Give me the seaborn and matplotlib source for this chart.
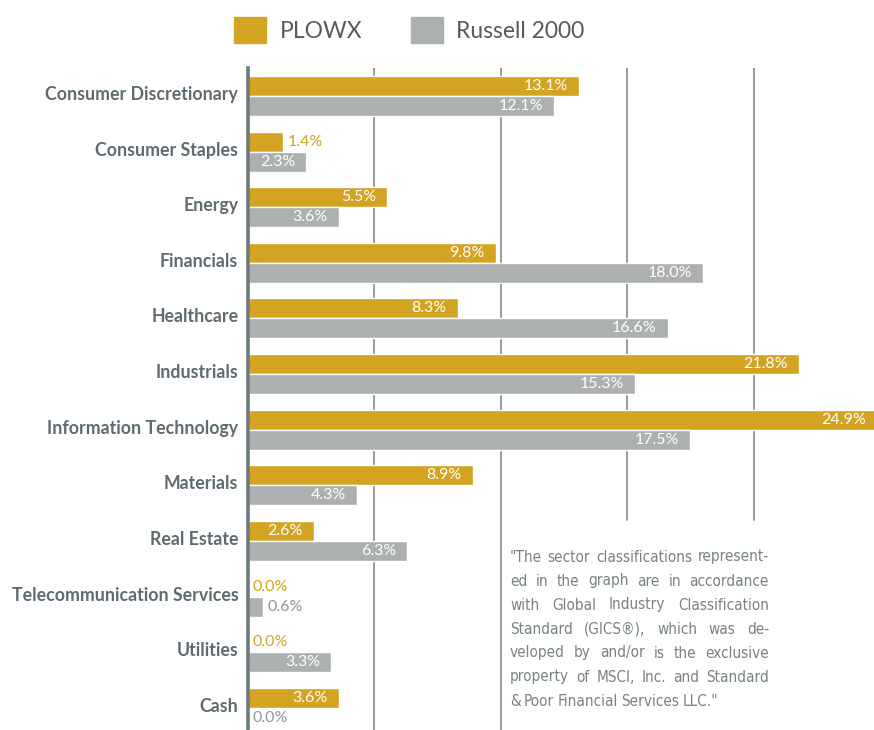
import matplotlib
matplotlib.use("Agg")
import pandas as pd
import seaborn as sns
import matplotlib.pyplot as plt
from matplotlib.patches import Patch
from matplotlib import font_manager as fm
from matplotlib.transforms import ScaledTranslation

# ---------------- data ----------------
sectors = [
    "Consumer Discretionary", "Consumer Staples", "Energy", "Financials",
    "Healthcare", "Industrials", "Information Technology", "Materials",
    "Real Estate", "Telecommunication Services", "Utilities", "Cash",
]
plowx = [13.1, 1.4, 5.5, 9.8, 8.3, 21.8, 24.9, 8.9, 2.6, 0.0, 0.0, 3.6]
russell = [12.1, 2.3, 3.6, 18.0, 16.6, 15.3, 17.5, 4.3, 6.3, 0.6, 3.3, 0.0]
series = ["PLOWX", "Russell 2000"]
grid_ticks = [5, 10, 15, 20]
note_lines = [
    '"The sector classifications represent-',
    "ed in the graph are in accordance",
    "with Global Industry Classification",
    "Standard (GICS®), which was de-",
    "veloped by and/or is the exclusive",
    "property of MSCI, Inc. and Standard",
    '& Poor Financial Services LLC."',
]

GOLD = "#D3A421"
GREY = "#ADB0B0"
LABEL = "#5F6B70"
GRID = "#8A9397"
NOTE = "#778286"

df = pd.DataFrame({
    "sector": sectors * 2,
    "fund": [series[0]] * len(sectors) + [series[1]] * len(sectors),
    "weight": plowx + russell,
})

sns.set_style("white")
plt.rcParams["font.family"] = ["Lato", "DejaVu Sans"]

# look for a narrow / condensed face for the note block
note_font = None
rank = {"condensed": 0, "semi-condensed": 1, "extra-condensed": 2}
best = 99
for f in fm.fontManager.ttflist:
    if f.style != "normal" or f.weight not in (400, "normal", "regular"):
        continue
    key = rank.get(f.stretch, 3 if ("Narrow" in f.name or "Condensed" in f.name) else None)
    if key is not None and key < best:
        best, note_font = key, f.fname

W, H = 874, 730
fig = plt.figure(figsize=(W / 100, H / 100), dpi=100)
ax = fig.add_axes([248 / W, 0, 1 - 248 / W, (H - 68) / H])

sns.barplot(data=df, y="sector", x="weight", hue="fund", orient="h",
            palette=[GOLD, GREY], width=0.72, saturation=1, legend=False,
            ax=ax, zorder=3)

ax.set_xlim(0, (W - 248) / 25.28)
ax.set_ylim(11.40, -0.504)
ax.set_xlabel("")
ax.set_ylabel("")
ax.set_xticks([])
for s in ["top", "right", "bottom"]:
    ax.spines[s].set_visible(False)
ax.spines["left"].set_color("#6E797D")
ax.spines["left"].set_linewidth(2.6)
ax.spines["left"].set_zorder(5)
ax.tick_params(axis="y", length=0, pad=7, labelsize=12.8, labelcolor=LABEL)
shift = ScaledTranslation(0, 3 / 100, fig.dpi_scale_trans)
for t in ax.get_yticklabels():
    t.set_fontweight("bold")
    t.set_transform(t.get_transform() + shift)

# vertical grid (lower part of 15/20 lines gives way to the note)
for g in grid_ticks:
    ax.axvline(g, ymin=0 if g <= 10 else 0.317, ymax=1, color=GRID, lw=1.3, zorder=1)

# value labels
for cont, vals, col in zip(ax.containers, [plowx, russell], [GOLD, "#8F9597"]):
    for bar, v in zip(cont, vals):
        y = bar.get_y() + bar.get_height() / 2
        if v >= 2:
            ax.annotate(f"{v:.1f}%", (bar.get_width(), y), xytext=(-8, 0),
                        textcoords="offset points", ha="right", va="center",
                        color="white", fontsize=11.5, zorder=6,
                        annotation_clip=False)
        else:
            ax.annotate(f"{v:.1f}%", (bar.get_width(), y), xytext=(3, 0),
                        textcoords="offset points", ha="left", va="center",
                        color=col, fontsize=11.5, zorder=6)

# legend
fig.legend(handles=[Patch(color=GOLD), Patch(color=GREY)], labels=series,
           loc="center left", bbox_to_anchor=(234 / W, 1 - 30 / H), ncol=2,
           frameon=False, fontsize=16.5, handlelength=1.4, handleheight=1.4,
           handletextpad=0.6, columnspacing=2.1, borderpad=0, borderaxespad=0,
           labelcolor="#555B5E")

# justified note block
fig.canvas.draw()
r = fig.canvas.get_renderer()
x0, x1 = 510, 769


def note_props(size):
    if note_font:
        return fm.FontProperties(fname=note_font, size=size)
    return fm.FontProperties(family="Liberation Sans", size=size)


fs = 14.5
probe = fig.text(0, 0, "", fontproperties=note_props(fs))
widest = 0
for line in note_lines:
    probe.set_text(line)
    widest = max(widest, probe.get_window_extent(r).width)
probe.remove()
if widest > (x1 - x0) * 0.98:
    fs = fs * (x1 - x0) * 0.98 / widest

for i, line in enumerate(note_lines):
    ypix = 557 + i * 24
    words = line.split()
    texts = [fig.text(0, 1 - ypix / H, w, color=NOTE, va="center",
                      fontproperties=note_props(fs)) for w in words]
    widths = [t.get_window_extent(r).width for t in texts]
    if i == len(note_lines) - 1:
        gap = 0.22 * fs * 100 / 72
    else:
        gap = (x1 - x0 - sum(widths)) / (len(words) - 1)
    x = x0
    for t, w in zip(texts, widths):
        t.set_x(x / W)
        x += w + gap

fig.savefig("out.png", dpi=100)
